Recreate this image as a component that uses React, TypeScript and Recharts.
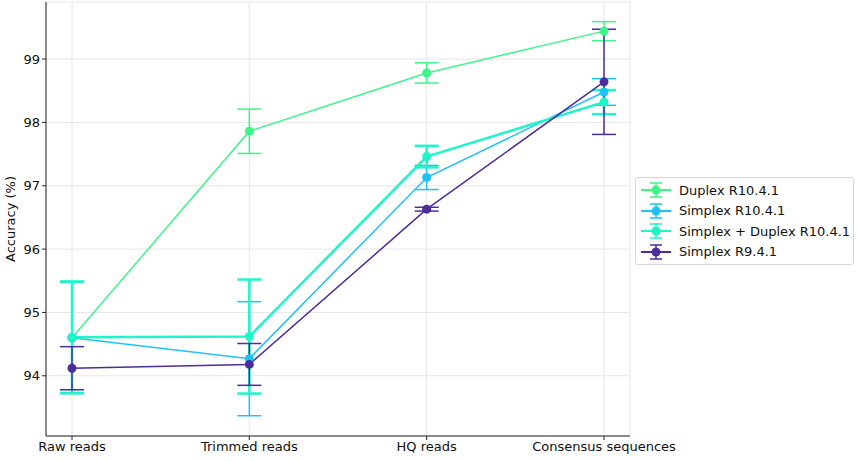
import { LineChart, Line, XAxis, YAxis, CartesianGrid, ErrorBar } from 'recharts';

const categories = ['Raw reads', 'Trimmed reads', 'HQ reads', 'Consensus sequences'];
const duplex = [94.6, 97.86, 98.78, 99.44];
const duplexErr = [0.88, 0.35, 0.16, 0.15];
const simplex10 = [94.6, 94.27, 97.13, 98.48];
const simplex10Err = [0.88, 0.9, 0.19, 0.21];
const combined = [94.61, 94.62, 97.46, 98.32];
const combinedErr = [0.88, 0.9, 0.17, 0.19];
const simplex9 = [94.12, 94.18, 96.63, 98.64];
const simplex9Err = [0.34, 0.33, 0.03, 0.83];
const yTicks = [94, 95, 96, 97, 98, 99];

const series = [
  { key: 'duplex', name: 'Duplex R10.4.1', color: '#3ef58a', width: 1.5 },
  { key: 'simplex10', name: 'Simplex R10.4.1', color: '#1ec2f7', width: 1.5 },
  { key: 'combined', name: 'Simplex + Duplex R10.4.1', color: '#1ef5c8', width: 2.5 },
  { key: 'simplex9', name: 'Simplex R9.4.1', color: '#4b2d9b', width: 1.5 },
];

const data = categories.map((c, i) => ({
  name: c,
  duplex: duplex[i], duplexErr: duplexErr[i],
  simplex10: simplex10[i], simplex10Err: simplex10Err[i],
  combined: combined[i], combinedErr: combinedErr[i],
  simplex9: simplex9[i], simplex9Err: simplex9Err[i],
}));

const font = 'DejaVu Sans, sans-serif';

function LegendBox() {
  return (
    <div style={{ position: 'absolute', left: 635, top: 177, width: 219, boxSizing: 'border-box', border: '1px solid #d8d8d8', borderRadius: 3, padding: '2px 0 2px 3px', background: '#fff', fontFamily: font, fontSize: 13, color: '#111', whiteSpace: 'nowrap' }}>
      {series.map((s) => (
        <div key={s.key} style={{ display: 'flex', alignItems: 'center', height: 20.5 }}>
          <svg width={34} height={18} style={{ marginRight: 6, flexShrink: 0 }}>
            <line x1={2} y1={9} x2={32} y2={9} stroke={s.color} strokeWidth={2} />
            <line x1={17} y1={2} x2={17} y2={16} stroke={s.color} strokeWidth={1.5} />
            <line x1={11} y1={2} x2={23} y2={2} stroke={s.color} strokeWidth={1.5} />
            <line x1={11} y1={16} x2={23} y2={16} stroke={s.color} strokeWidth={1.5} />
            <circle cx={17} cy={9} r={4.5} fill={s.color} />
          </svg>
          <span>{s.name}</span>
        </div>
      ))}
    </div>
  );
}

export default function App() {
  return (
    <div style={{ position: 'absolute', left: 0, top: 0, width: 858, height: 461, background: '#fff' }}>
      <LineChart width={858} height={461} data={data} margin={{ top: 2, right: 228, left: 0, bottom: 0 }}>
        <CartesianGrid stroke="#e6e6e6" strokeWidth={1} />
        <XAxis dataKey="name" padding={{ left: 26, right: 26 }} height={25} stroke="#222" tickLine={{ stroke: '#222' }} tickSize={4}
          tick={{ fontSize: 13, fill: '#111', fontFamily: font }} interval={0} />
        <XAxis xAxisId="top" orientation="top" dataKey="name" height={0} tick={false} tickLine={false} stroke="#222" />
        <YAxis domain={[93.05, 99.9]} ticks={yTicks} width={46} stroke="#222" tickSize={4} tickLine={{ stroke: '#222' }}
          tick={{ fontSize: 13, fill: '#111', fontFamily: font }}
          label={{ value: 'Accuracy (%)', angle: -90, position: 'insideLeft', offset: 10, style: { fontSize: 13, fill: '#111', fontFamily: font, textAnchor: 'middle' } }} />
        <YAxis yAxisId="right" orientation="right" width={0} tick={false} tickLine={false} stroke="#222" />
        {series.map((s) => (
          <Line key={s.key} dataKey={s.key} name={s.name} stroke={s.color} strokeWidth={s.width} isAnimationActive={false}
            dot={{ r: 4.5, fill: s.color, stroke: s.color, strokeWidth: 0 }} activeDot={false}>
            <ErrorBar dataKey={s.key + 'Err'} width={12} stroke={s.color} strokeWidth={s.width === 2.5 ? 2.5 : 1.5} />
          </Line>
        ))}
      </LineChart>
      <LegendBox />
    </div>
  );
}
